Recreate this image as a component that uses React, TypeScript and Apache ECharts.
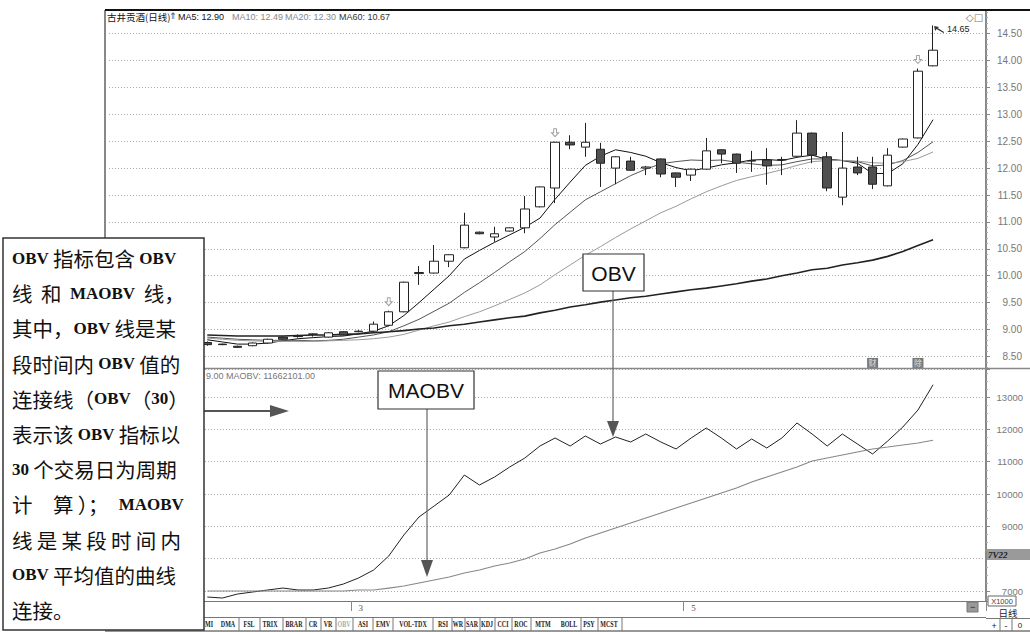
import React, { useEffect, useRef } from 'react';
import * as echarts from 'echarts';

// ---------- data (49 trading days) ----------
const LEAD = 6; // empty slots hidden behind the note box
const TRAIL = 3; // empty slots at the right edge

const opens = [8.76, 8.73, 8.69, 8.70, 8.75, 8.86, 8.87, 8.91, 8.86, 8.96, 8.96, 8.97, 9.08, 9.33, 10.04, 10.05, 10.27, 10.52, 10.81, 10.72, 10.83, 10.89, 11.28, 11.63, 12.48, 12.39, 12.35, 12.00, 12.13, 12.00, 12.17, 11.91, 11.87, 11.98, 12.34, 12.26, 12.13, 12.15, 12.15, 12.22, 12.65, 12.21, 11.46, 12.02, 12.02, 11.67, 12.39, 12.56, 13.90];
const closes = [8.72, 8.72, 8.67, 8.75, 8.82, 8.82, 8.88, 8.92, 8.94, 8.90, 8.97, 9.10, 9.33, 9.88, 10.06, 10.27, 10.39, 10.94, 10.78, 10.78, 10.89, 11.24, 11.65, 12.48, 12.43, 12.48, 12.09, 12.21, 11.96, 12.02, 11.89, 11.83, 11.98, 12.32, 12.26, 12.09, 12.14, 12.04, 12.16, 12.65, 12.24, 11.63, 12.00, 11.91, 11.70, 12.24, 12.54, 13.80, 14.19];
const lows = [8.70, 8.71, 8.66, 8.69, 8.74, 8.81, 8.85, 8.87, 8.85, 8.89, 8.95, 8.96, 9.06, 9.32, 9.83, 10.04, 10.16, 10.51, 10.77, 10.63, 10.82, 10.79, 11.27, 11.35, 12.35, 12.21, 11.65, 11.70, 11.95, 11.87, 11.83, 11.65, 11.76, 11.97, 12.09, 11.91, 11.93, 11.69, 11.87, 12.21, 12.09, 11.57, 11.31, 11.87, 11.61, 11.66, 12.38, 12.55, 13.89];
const highs = [8.78, 8.74, 8.70, 8.76, 8.83, 8.87, 8.91, 8.93, 8.95, 8.97, 8.99, 9.15, 9.35, 9.89, 10.18, 10.57, 10.40, 11.17, 10.82, 10.91, 10.90, 11.48, 11.66, 12.49, 12.61, 12.84, 12.47, 12.22, 12.21, 12.04, 12.18, 11.92, 11.99, 12.56, 12.35, 12.27, 12.32, 12.37, 12.21, 12.89, 12.66, 12.30, 12.67, 12.21, 12.21, 12.37, 12.55, 13.85, 14.65];

const ma5 = [8.81, 8.77, 8.73, 8.73, 8.75, 8.79, 8.83, 8.85, 8.87, 8.88, 8.92, 8.97, 9.07, 9.26, 9.50, 9.75, 10.00, 10.31, 10.47, 10.62, 10.76, 10.90, 11.07, 11.42, 11.74, 12.05, 12.22, 12.34, 12.29, 12.22, 12.10, 12.01, 11.95, 12.00, 12.06, 12.10, 12.15, 12.16, 12.14, 12.20, 12.24, 12.16, 12.14, 12.09, 11.90, 11.90, 12.08, 12.44, 12.90];
const ma10 = [8.86, 8.84, 8.82, 8.81, 8.80, 8.80, 8.80, 8.79, 8.80, 8.82, 8.86, 8.90, 8.96, 9.07, 9.19, 9.34, 9.49, 9.69, 9.87, 10.06, 10.26, 10.45, 10.69, 10.95, 11.18, 11.41, 11.56, 11.71, 11.86, 11.98, 12.08, 12.12, 12.15, 12.14, 12.15, 12.11, 12.08, 12.05, 12.06, 12.12, 12.17, 12.17, 12.14, 12.12, 12.04, 12.06, 12.14, 12.29, 12.49];
const ma20 = [8.84, 8.82, 8.80, 8.79, 8.78, 8.78, 8.78, 8.78, 8.79, 8.80, 8.81, 8.83, 8.86, 8.91, 8.99, 9.07, 9.14, 9.24, 9.33, 9.44, 9.56, 9.68, 9.83, 10.02, 10.20, 10.38, 10.54, 10.71, 10.87, 11.02, 11.17, 11.29, 11.43, 11.56, 11.67, 11.77, 11.84, 11.90, 11.97, 12.05, 12.12, 12.14, 12.14, 12.13, 12.10, 12.09, 12.12, 12.18, 12.30];
const ma60 = [8.90, 8.89, 8.88, 8.88, 8.88, 8.88, 8.89, 8.90, 8.90, 8.91, 8.92, 8.94, 8.96, 8.98, 9.01, 9.03, 9.07, 9.10, 9.14, 9.18, 9.22, 9.25, 9.31, 9.36, 9.42, 9.46, 9.51, 9.55, 9.59, 9.62, 9.66, 9.70, 9.74, 9.77, 9.81, 9.85, 9.90, 9.94, 10.00, 10.05, 10.11, 10.14, 10.20, 10.24, 10.29, 10.36, 10.45, 10.56, 10.67];

const obv = [6814, 6783, 6907, 6969, 7031, 7092, 7031, 7031, 7092, 7216, 7402, 7649, 8082, 8732, 9288, 9629, 9969, 10587, 10278, 10526, 10835, 11113, 11484, 11732, 11484, 11794, 11546, 11763, 11608, 11856, 11608, 11392, 11732, 12041, 11732, 11392, 11701, 11423, 11732, 12196, 11856, 11484, 11856, 11546, 11237, 11639, 12072, 12598, 13379];
const maobv = [7000, 7000, 7000, 7000, 7000, 7000, 7000, 7000, 7000, 7000, 7031, 7031, 7092, 7154, 7247, 7340, 7433, 7556, 7649, 7773, 7866, 7989, 8175, 8299, 8453, 8639, 8794, 8948, 9103, 9257, 9412, 9567, 9721, 9876, 10031, 10185, 10371, 10526, 10680, 10835, 11020, 11113, 11206, 11299, 11392, 11453, 11515, 11577, 11662];

const monthMarks = [{ day: 10, label: '3' }, { day: 32, label: '5' }];
const noticeDays = [12, 23, 47];
const infoMarks = [{ day: 44, text: '财' }, { day: 47, text: '除' }];
const infoLevel = 8.38;
const hiddenObvLabels = [8000];

const stockName = '古井贡酒(日线)';
const obvHeader = '9.00 MAOBV: 11662101.00';

const tabs = ['MI', 'DMA', 'FSL', 'TRIX', 'BRAR', 'CR', 'VR', 'OBV', 'ASI', 'EMV', 'VOL-TDX', 'RSI', 'WR', 'SAR', 'KDJ', 'CCI', 'ROC', 'MTM', 'BOLL', 'PSY', 'MCST'];
const tabCenters = [209, 228, 249, 270, 294, 313, 328, 344, 363, 383, 413, 443, 458, 472, 487, 503, 521, 543, 569, 589, 609];
const tabSeps = [239, 260, 283, 306, 321, 336, 353, 373, 393, 433, 452, 465, 480, 495, 512, 531, 581, 598, 622];

const noteLines = [
  'OBV 指标包含 OBV',
  '线  和  MAOBV  线，',
  '其中，OBV 线是某',
  '段时间内 OBV 值的',
  '连接线（OBV（30）',
  '表示该 OBV 指标以',
  '30 个交易日为周期',
  '计　算 ）；MAOBV',
  '线 是 某 段 时 间 内',
  'OBV 平均值的曲线',
  '连接。',
];

// split a line into runs of Latin (l) and CJK (c) for rich text
const toRich = (s: string) => {
  const runs: string[] = [];
  let cur = '';
  let kind = '';
  for (const ch of s) {
    const k = ch.charCodeAt(0) < 128 ? 'l' : 'c';
    if (k !== kind && cur) {
      runs.push(`{${kind}|${cur}}`);
      cur = '';
    }
    kind = k;
    cur += ch;
  }
  if (cur) runs.push(`{${kind}|${cur}}`);
  return runs.join('');
};

export default function App() {
  const ref = useRef<HTMLDivElement>(null);

  useEffect(() => {
    document.body.style.margin = '0';
    const chart = echarts.init(ref.current!, null, { renderer: 'svg' });

    const n = opens.length;
    const total = LEAD + n + TRAIL;
    const cats = Array.from({ length: total }, (_, k) => 'k' + k);
    const pad = (arr: any[], blank: any) => [
      ...Array(LEAD).fill(blank),
      ...arr,
      ...Array(TRAIL).fill(blank),
    ];
    const candle = pad(
      opens.map((o, i) => [o, closes[i], lows[i], highs[i]]),
      ['-', '-', '-', '-']
    );
    const monthByCat: Record<string, string> = {};
    monthMarks.forEach((m) => (monthByCat[cats[LEAD + m.day]] = m.label));
    const last = n - 1;

    const Z = 100;
    const SANS = '"Liberation Sans", Arial, sans-serif';
    const line = (x1: number, y1: number, x2: number, y2: number, stroke: string, lw = 1, z = Z) => ({
      type: 'line', z, silent: true, shape: { x1, y1, x2, y2 }, style: { stroke, lineWidth: lw },
    });
    const txt = (x: number, y: number, text: string, o: any = {}, z = Z + 2, extra: any = {}) => ({
      type: 'text', z, x, y, silent: true, ...extra,
      style: { text, fontSize: 10, fontFamily: SANS, fill: '#222', align: 'left', verticalAlign: 'middle', ...o },
    });
    const rect = (x: number, y: number, w: number, h: number, style: any, z = Z) => ({
      type: 'rect', z, silent: true, shape: { x, y, width: w, height: h }, style,
    });
    const poly = (pts: number[][], fill: string, z = Z + 1) => ({
      type: 'polygon', z, silent: true, shape: { points: pts }, style: { fill },
    });

    const graphics: any[] = [
      // frame
      line(105, 10, 1030, 10, '#111', 2, 50),
      line(105, 10, 105, 240, '#111', 1, 50),
      line(105, 368.5, 1030, 368.5, '#888', 1.5, 50),
      // headers
      txt(107, 17, stockName, { fontFamily: '"Noto Sans CJK SC", sans-serif', fontSize: 9.5, fill: '#111' }),
      txt(169, 16, '⇑', { fontSize: 9, fill: '#333', fontFamily: '"DejaVu Sans", sans-serif' }),
      txt(178, 17, `MA5: ${ma5[last].toFixed(2)}`, { fill: '#111', fontSize: 9 }),
      txt(232, 17, `MA10: ${ma10[last].toFixed(2)}`, { fill: '#888', fontSize: 9 }),
      txt(285, 17, `MA20: ${ma20[last].toFixed(2)}`, { fill: '#888', fontSize: 9 }),
      txt(339, 17, `MA60: ${ma60[last].toFixed(2)}`, { fill: '#333', fontSize: 9 }),
      txt(966, 17, '◇□', { fill: '#777', fontFamily: '"DejaVu Sans", sans-serif', fontSize: 10 }),
      txt(206, 376, obvHeader, { fontSize: 9, fill: '#777' }),
      // OBV callout
      line(613, 291, 613, 424, '#666', 1.2),
      poly([[607, 421], [619, 421], [613, 437]], '#555'),
      rect(583, 254, 61, 37, { fill: '#fff', stroke: '#333', lineWidth: 1.2 }),
      txt(613.5, 273, 'OBV', { fontSize: 21, align: 'center', fill: '#111' }),
      // MAOBV callout
      line(427, 409, 427, 563, '#666', 1.2),
      poly([[421, 560], [433, 560], [427, 577]], '#555'),
      rect(378, 371, 96, 38, { fill: '#fff', stroke: '#333', lineWidth: 1.2 }),
      txt(426, 390.5, 'MAOBV', { fontSize: 21, align: 'center', fill: '#111' }),
      // arrow from note box
      line(204, 411, 272, 411, '#555', 2),
      poly([[270, 405], [289, 411], [270, 417]], '#555'),
      // bottom bar
      line(105, 617.5, 986, 617.5, '#777', 1, 50),
      line(105, 631, 1030, 631, '#333', 1, 50),
      rect(967, 602, 11, 10, { fill: '#999', stroke: '#777', lineWidth: 1 }, 50),
      txt(972.5, 607, '−', { fontSize: 9, align: 'center', fill: '#222' }, 51),
      // right column widgets
      rect(987, 549, 43, 11, { fill: '#9a9a9a' }, Z),
      txt(988, 554.5, '7V22', { fontSize: 9, fontStyle: 'italic', fontWeight: 'bold', fill: '#222', fontFamily: '"Liberation Serif", serif' }),
      rect(988, 596, 28, 10, { fill: '#fff', stroke: '#666', lineWidth: 1 }, Z),
      txt(1002, 601, 'X1000', { fontSize: 7.5, align: 'center', fill: '#444' }),
      txt(1008, 612.5, '日线', { fontFamily: '"Noto Sans CJK SC", sans-serif', fontSize: 9.5, align: 'center', fill: '#222' }),
      line(986, 618.5, 1030, 618.5, '#777', 1, 50),
      line(1000, 619, 1000, 631, '#777', 1, 50),
      line(1012, 619, 1012, 631, '#777', 1, 50),
      txt(994, 625.5, '+', { fontSize: 9, align: 'center', fill: '#222' }),
      txt(1006, 625.5, '-', { fontSize: 9, align: 'center', fill: '#222' }),
      txt(1020, 625.5, '0', { fontSize: 8, align: 'center', fill: '#222' }),
    ];
    tabs.forEach((t, i) =>
      graphics.push(
        txt(tabCenters[i], 624.5, t, {
          fontSize: 7.5, fontWeight: 'bold', align: 'center',
          fontFamily: '"Liberation Serif", serif', fill: t === 'OBV' ? '#aaa' : '#222',
        }, 60, { scaleX: 0.8 })
      )
    );
    tabSeps.forEach((x) => graphics.push(line(x, 618, x, 631, '#777', 1, 55)));
    // note box
    graphics.push(rect(3, 238, 201, 392, { fill: '#fff', stroke: '#333', lineWidth: 1.5 }, 200));
    noteLines.forEach((s, i) =>
      graphics.push({
        type: 'text', z: 201, silent: true, x: 12, y: 258 + 35.2 * i,
        style: {
          text: toRich(s), align: 'left', verticalAlign: 'middle', fill: '#111',
          rich: {
            c: { fontSize: 20.5, fontFamily: '"Noto Sans CJK SC", sans-serif', fill: '#111' },
            l: { fontSize: 17, fontWeight: 'bold', fontFamily: '"Liberation Serif", serif', fill: '#111' },
          },
        },
      })
    );

    const lineSeries = (name: string, data: number[], color: string, width: number, xi: number) => ({
      name, type: 'line', xAxisIndex: xi, yAxisIndex: xi, data: pad(data, '-'),
      symbol: 'none', silent: true, lineStyle: { color, width }, z: 3,
    });

    const option: any = {
      animation: false,
      backgroundColor: '#fff',
      grid: [
        { left: 109, right: 44, top: 10, height: 358 },
        { left: 109, right: 44, top: 369, height: 232 },
      ],
      xAxis: [
        { type: 'category', gridIndex: 0, data: cats, boundaryGap: true, show: false },
        {
          type: 'category', gridIndex: 1, data: cats, boundaryGap: true,
          axisLine: { show: true, lineStyle: { color: '#777', width: 1 } },
          axisTick: {
            show: true, length: 10, alignWithLabel: false,
            interval: (_i: number, v: string) => !!monthByCat[v],
            lineStyle: { color: '#888' },
          },
          axisLabel: {
            show: true, interval: (_i: number, v: string) => !!monthByCat[v],
            formatter: (v: string) => monthByCat[v] || '',
            align: 'left', margin: 2, fontSize: 9, color: '#555',
            fontFamily: '"Liberation Serif", serif',
          },
          splitLine: { show: false },
        },
      ],
      yAxis: [
        {
          type: 'value', gridIndex: 0, position: 'right', scale: true,
          min: 8.286, max: 14.937, minInterval: 0.5, maxInterval: 0.5, splitNumber: 13,
          axisLine: { show: true, lineStyle: { color: '#888', width: 2 } },
          axisTick: { show: true, length: 4, lineStyle: { color: '#888' } },
          minorTick: { show: true, splitNumber: 5, length: 2, lineStyle: { color: '#aaa' } },
          axisLabel: {
            formatter: (v: number) => v.toFixed(2), align: 'right', margin: 36,
            color: '#777', fontSize: 10, fontFamily: SANS, showMinLabel: false, showMaxLabel: false,
          },
          splitLine: { show: true, lineStyle: { color: '#aaa', type: [1, 2], width: 1 } },
        },
        {
          type: 'value', gridIndex: 1, position: 'right', scale: true,
          min: 6691, max: 13866, minInterval: 1000, maxInterval: 1000, splitNumber: 7,
          axisLine: { show: true, lineStyle: { color: '#888', width: 2 } },
          axisTick: { show: true, length: 4, lineStyle: { color: '#888' } },
          minorTick: { show: true, splitNumber: 4, length: 2, lineStyle: { color: '#aaa' } },
          axisLabel: {
            formatter: (v: number) => (hiddenObvLabels.includes(Math.round(v)) ? '' : String(Math.round(v))),
            align: 'right', margin: 37,
            color: '#777', fontSize: 9.5, fontFamily: SANS, showMinLabel: false, showMaxLabel: false,
          },
          splitLine: { show: true, lineStyle: { color: '#aaa', type: [1, 2], width: 1 } },
        },
      ],
      series: [
        {
          name: 'K', type: 'candlestick', xAxisIndex: 0, yAxisIndex: 0, data: candle,
          barWidth: 9, silent: true, z: 4,
          itemStyle: { color: '#ffffff', color0: '#505050', borderColor: '#222', borderColor0: '#222', borderWidth: 1 },
          markPoint: {
            silent: true,
            symbol: 'path://M0,0 L5,1 L3.5,2 L10,6 L9.5,7 L2.5,3 L1,5 Z',
            symbolSize: [10, 7], symbolOffset: [6, 4],
            itemStyle: { color: '#333' },
            label: {
              show: true, position: 'right', distance: 3, formatter: '14.65',
              fontSize: 9, color: '#222', fontFamily: SANS,
            },
            data: [{ coord: [cats[LEAD + last], highs[last]], value: highs[last] }],
          },
        },
        lineSeries('MA5', ma5, '#111', 1, 0),
        lineSeries('MA10', ma10, '#555', 1, 0),
        lineSeries('MA20', ma20, '#9a9a9a', 1, 0),
        lineSeries('MA60', ma60, '#222', 1.6, 0),
        {
          name: 'notice', type: 'scatter', xAxisIndex: 0, yAxisIndex: 0, silent: true, z: 5,
          symbol: 'path://M3,0 L7,0 L7,5 L10,5 L5,10 L0,5 L3,5 Z', symbolSize: [7, 8], symbolOffset: [0, -9],
          itemStyle: { color: '#fff', borderColor: '#888', borderWidth: 1 },
          data: noticeDays.map((d) => [cats[LEAD + d], highs[d]]),
        },
        {
          name: 'info', type: 'scatter', xAxisIndex: 0, yAxisIndex: 0, silent: true, z: 5,
          symbol: 'rect', symbolSize: [11, 10], itemStyle: { color: '#555' },
          label: { show: true, position: 'inside', color: '#fff', fontSize: 8, fontFamily: '"Noto Sans CJK SC", sans-serif' },
          data: infoMarks.map((m) => ({ value: [cats[LEAD + m.day], infoLevel], label: { formatter: m.text } })),
        },
        lineSeries('OBV', obv, '#222', 1, 1),
        lineSeries('MAOBV', maobv, '#888', 1.2, 1),
      ],
      graphic: graphics,
    };

    chart.setOption(option);
    return () => chart.dispose();
  }, []);

  return <div ref={ref} style={{ width: 1030, height: 632 }} />;
}
